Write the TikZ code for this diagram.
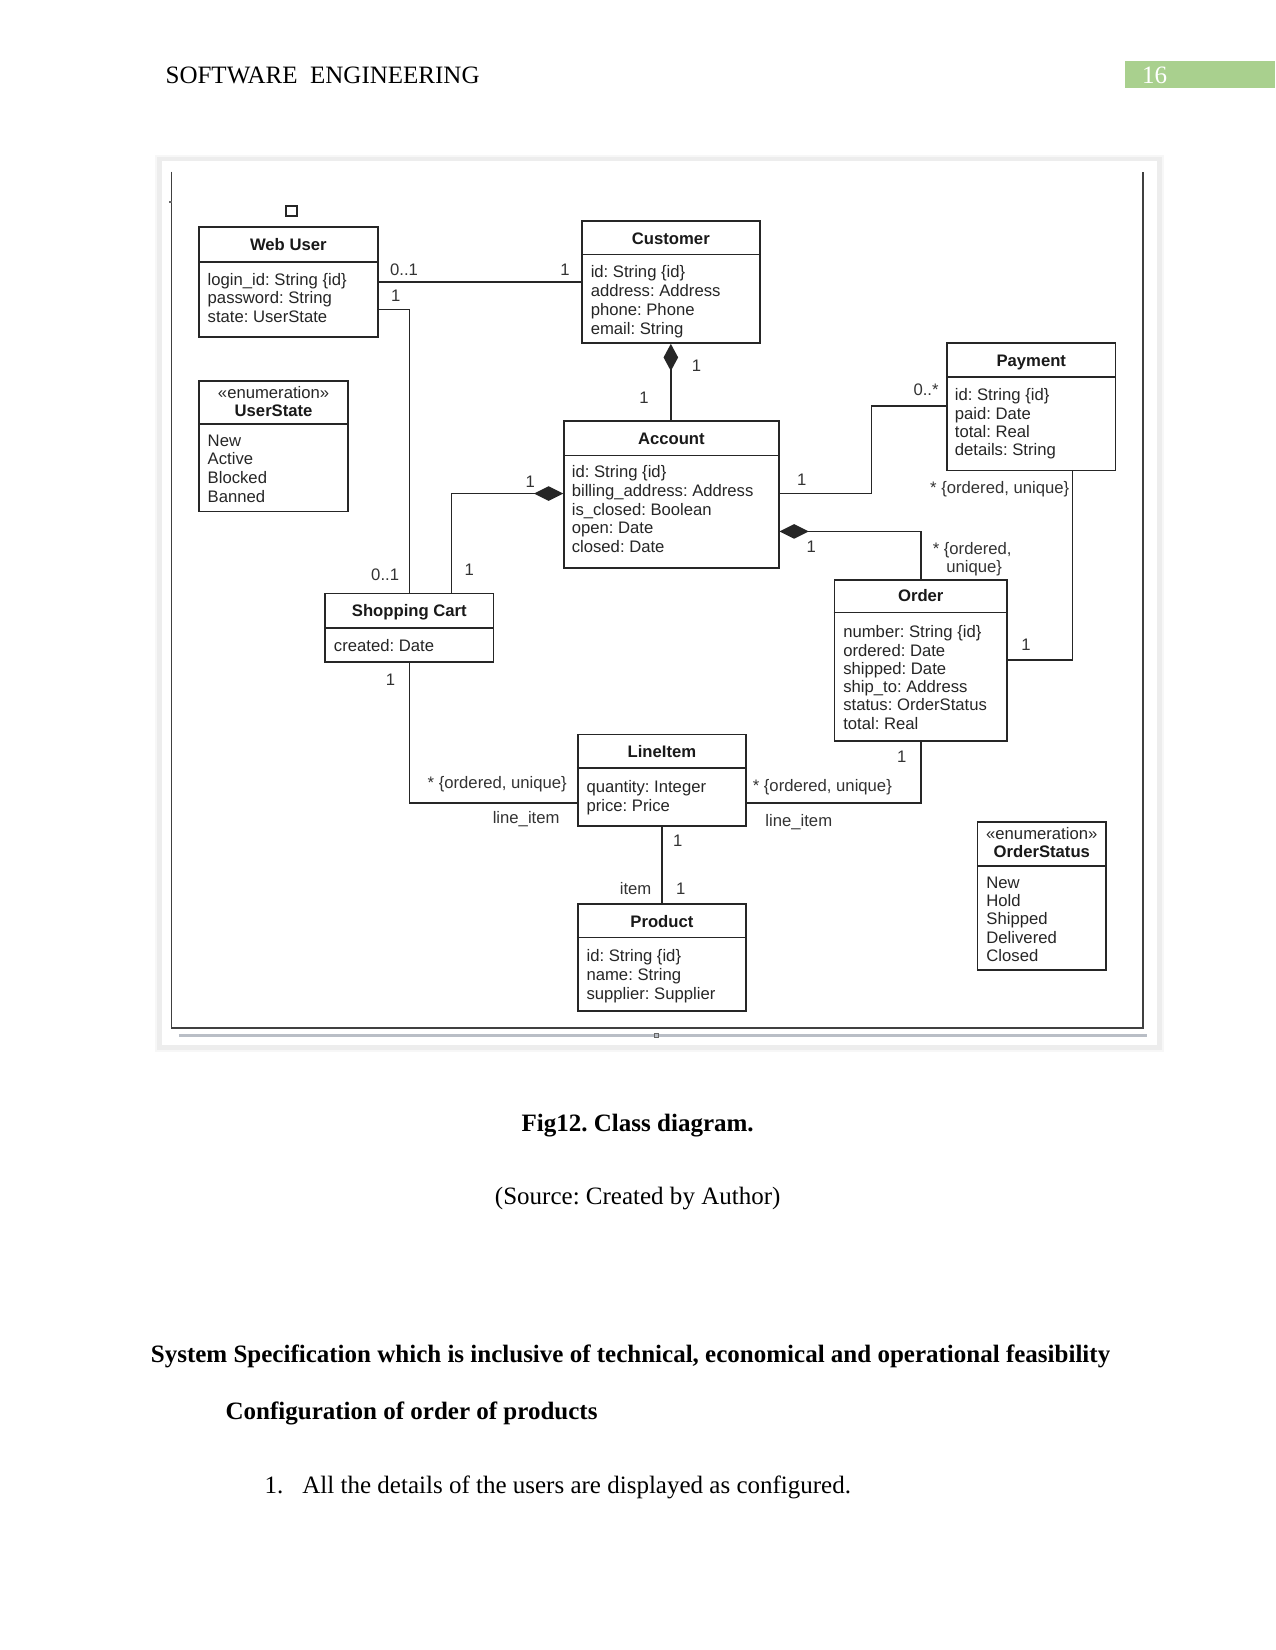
\documentclass[tikz,border=0pt]{standalone}
\usepackage{fontspec}
\setmainfont{Liberation Serif}
\newfontfamily\diag{Liberation Sans}
\usetikzlibrary{arrows.meta,fit}
\frenchspacing
\newcommand\attrlist[5]{\foreach \t [count=\i] in {#5} {\node[attr] (#1-\i) at (#2,{#3+1+(\i-1)*#4}) {\t};}}
\begin{document}
\begin{tikzpicture}[x=0.50495pt,y=-0.50495pt,
  cls/.style={draw=black!85, line width=0.8pt, inner sep=0pt},
  sep/.style={draw=black!85, line width=0.8pt},
  conn/.style={draw=black!85, line width=0.7pt},
  attr/.style={anchor=base west, inner sep=0pt, font=\diag\fontsize{8}{9}\selectfont, text=black!85},
  ttl/.style={anchor=base, inner sep=0pt, yshift=-0.5pt, font=\diag\bfseries\fontsize{8}{9}\selectfont, text=black!90},
  stereo/.style={anchor=base, inner sep=0pt, yshift=-0.5pt, font=\diag\fontsize{8}{9}\selectfont, text=black!85},
  lbl/.style={anchor=base, inner sep=0pt, yshift=-0.5pt, font=\diag\fontsize{8}{9}\selectfont, text=black!80},
  lblw/.style={anchor=base west, inner sep=0pt, yshift=-0.5pt, font=\diag\fontsize{8}{9}\selectfont, text=black!80},
  lble/.style={anchor=base east, inner sep=0pt, yshift=-0.5pt, font=\diag\fontsize{8}{9}\selectfont, text=black!80},
  page/.style={inner sep=0pt, yshift=-0.8pt, font=\fontsize{12}{14}\selectfont},
  dia/.style={{Diamond[length=14pt,width=7pt]}-}
]
\useasboundingbox (0,0) rectangle (1212,1568);
\fill[white] (0,0) rectangle (1212,1568);

% page header
\node[page, anchor=base west, yshift=0.8pt] (hdr) at (157,79) {SOFTWARE\ \ ENGINEERING};
\fill[fill={rgb,255:red,169;green,208;blue,142}] (1069,58) rectangle (1212,84);
\node[page, anchor=base west, yshift=0.8pt, text=white] (pg) at (1085,79) {16};

% figure frame (soft shadow)
\draw[black!7, line width=2.5pt] (151,151) rectangle (1102,996);
\draw[black!3, line width=1pt] (148,148) rectangle (1105,999);
\draw[black!75, line width=0.9pt] (163,163) -- (163,977) -- (1086,977) -- (1086,163);
\draw[black!60, line width=0.6pt] (161,192) -- (163,192);
\draw[line width=1.6pt, draw={rgb,255:red,185;green,190;blue,198}] (170,984) -- (1090,984);
\draw[black!60, line width=0.4pt] (622,982) rectangle (626,986);

% small square
\draw[black!85, line width=0.8pt] (272,196) rectangle (282,205);

% Web User
\node[cls, fit={(189,216) (359,320)}] (wu) {};
\draw[sep] (wu.west |- 0,249) -- (wu.east |- 0,249);
\node[ttl] (wu-t) at (274,237) {Web User};
\attrlist{wu}{197}{270}{17.6}{login\_id: String \{id\}, password: String, state: UserState}

% Customer
\node[cls, fit={(553,210) (722,326)}] (cu) {};
\draw[sep] (cu.west |- 0,242) -- (cu.east |- 0,242);
\node[ttl] (cu-t) at (637.5,231) {Customer};
\attrlist{cu}{561}{263}{17.9}{id: String \{id\}, address: Address, phone: Phone, email: String}

% UserState
\node[cls, fit={(189,362) (331,486)}] (us) {};
\draw[sep] (us.west |- 0,403) -- (us.east |- 0,403);
\node[stereo] (us-s) at (260,378) {«enumeration»};
\node[ttl] (us-t) at (260,395) {UserState};
\attrlist{us}{197}{423}{17.7}{New, Active, Blocked, Banned}

% Account
\node[cls, fit={(536,400) (740,540)}] (ac) {};
\draw[sep] (ac.west |- 0,433) -- (ac.east |- 0,433);
\node[ttl] (ac-t) at (638,421) {Account};
\attrlist{ac}{543}{453}{17.75}{id: String \{id\}, billing\_address: Address, is\_closed: Boolean, open: Date, closed: Date}

% Payment
\node[cls, fit={(900,326) (1060,447)}] (pay) {};
\draw[sep] (pay.west |- 0,358) -- (pay.east |- 0,358);
\node[ttl] (pay-t) at (980,347) {Payment};
\attrlist{pay}{907}{380}{17.4}{id: String \{id\}, paid: Date, total: Real, details: String}

% Shopping Cart
\node[cls, fit={(309,564) (469,629)}] (sc) {};
\draw[sep] (sc.west |- 0,597) -- (sc.east |- 0,597);
\node[ttl] (sc-t) at (389,585) {Shopping Cart};
\attrlist{sc}{317}{618}{17.6}{created: Date}

% Order
\node[cls, fit={(793,551) (957,704)}] (or) {};
\draw[sep] (or.west |- 0,582) -- (or.east |- 0,582);
\node[ttl] (or-t) at (875,571) {Order};
\attrlist{or}{801}{605}{17.4}{number: String \{id\}, ordered: Date, shipped: Date, ship\_to: Address, status: OrderStatus, total: Real}

% LineItem
\node[cls, fit={(549,698) (709,785)}] (li) {};
\draw[sep] (li.west |- 0,730) -- (li.east |- 0,730);
\node[ttl] (li-t) at (629,719) {LineItem};
\attrlist{li}{557}{752}{18}{quantity: Integer, price: Price}

% Product
\node[cls, fit={(549,859) (709,961)}] (pr) {};
\draw[sep] (pr.west |- 0,891) -- (pr.east |- 0,891);
\node[ttl] (pr-t) at (629,880) {Product};
\attrlist{pr}{557}{913}{18}{id: String \{id\}, name: String, supplier: Supplier}

% OrderStatus
\node[cls, fit={(929,781) (1051,922)}] (os) {};
\draw[sep] (os.west |- 0,823) -- (os.east |- 0,823);
\node[stereo] (os-s) at (990,797) {«enumeration»};
\node[ttl] (os-t) at (990,814) {OrderStatus};
\attrlist{os}{937}{843}{17.5}{New, Hold, Shipped, Delivered, Closed}

% bend points
\coordinate (b0) at (0,268);
\coordinate (b1) at (389,294);
\coordinate (b2) at (429,469);
\coordinate (b3) at (828,469);
\coordinate (b4) at (828,386);
\coordinate (b5) at (1019,627);
\coordinate (b6) at (875,505);
\coordinate (b7) at (389,763);
\coordinate (b8) at (875,763);

% connectors
\draw[conn] (wu.east |- b0) -- (cu.west |- b0);
\draw[conn] (wu.east |- b1) -- (b1) -- (sc.north -| b1);
\draw[conn, {Diamond[length=13pt,width=7pt]}-] (cu.south) -- (cu.south |- ac.north);
\draw[conn, dia] (ac.west |- b2) -- (b2) -- (sc.north -| b2);
\draw[conn] (ac.east |- b3) -- (b3) -- (b4) -- (pay.west |- b4);
\draw[conn] (pay.south -| b5) -- (b5) -- (or.east |- b5);
\draw[conn, dia] (ac.east |- b6) -- (b6) -- (or.north -| b6);
\draw[conn] (sc.south -| b7) -- (b7) -- (li.west |- b7);
\draw[conn] (or.south -| b8) -- (b8) -- (li.east |- b8);
\draw[conn] (li.south) -- (pr.north);

% multiplicity labels
\node[lbl] (m1) at (384,261) {0..1};
\node[lbl] (m2) at (537,261) {1};
\node[lbl] (m3) at (376,286) {1};
\node[lbl] (m4) at (366,551) {0..1};
\node[lbl] (m5) at (662,352) {1};
\node[lbl] (m6) at (612,382) {1};
\node[lbl] (m7) at (504,462) {1};
\node[lbl] (m8) at (446,546) {1};
\node[lbl] (m9) at (762,460) {1};
\node[lbl] (m10) at (880,375) {0..*};
\node[lbl] (m11) at (950,468) {* \{ordered, unique\}};
\node[lbl] (m12) at (975,617) {1};
\node[lbl] (m13) at (771,524) {1};
\node[lblw] (m14) at (886,526) {* \{ordered,};
\node[lblw] (m15) at (899,543) {unique\}};
\node[lbl] (m16) at (371,650) {1};
\node[lble] (m17) at (539,748) {* \{ordered, unique\}};
\node[lbl] (m18) at (500,782) {line\_item};
\node[lbl] (m19) at (857,724) {1};
\node[lblw] (m20) at (715,751) {* \{ordered, unique\}};
\node[lblw] (m21) at (727,784) {line\_item};
\node[lbl] (m22) at (644,803) {1};
\node[lbl] (m23) at (604,849) {item};
\node[lbl] (m24) at (647,849) {1};

% caption and text
\node[page, anchor=base, font=\bfseries\fontsize{12}{14}\selectfont] (cap) at (606,1073.5) {Fig12. Class diagram.};
\node[page, anchor=base] (src) at (606,1143.5) {(Source: Created by Author)};
\node[page, anchor=base west, font=\bfseries\fontsize{12}{14}\selectfont] (h1) at (143,1293.5) {System Specification which is inclusive of technical, economical and operational feasibility};
\node[page, anchor=base west, font=\bfseries\fontsize{12}{14}\selectfont] (h2) at (214,1347.5) {Configuration of order of products};
\node[page, anchor=base west] (n1) at (251,1417.5) {1.};
\node[page, anchor=base west] (p1) at (287,1417.5) {All the details of the users are displayed as configured.};
\end{tikzpicture}
\end{document}
